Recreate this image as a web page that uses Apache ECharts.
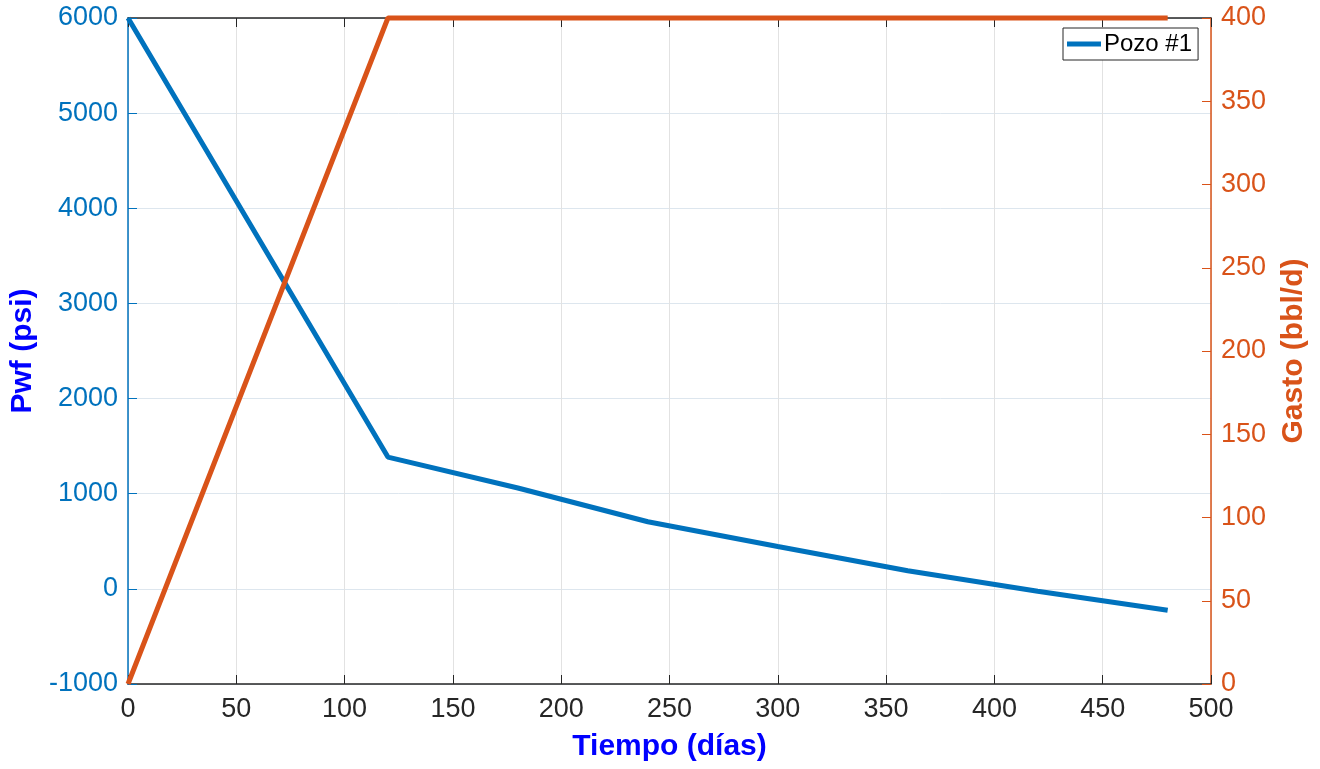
<!DOCTYPE html>
<html>
<head>
<meta charset="utf-8">
<script src="https://cdn.jsdelivr.net/npm/echarts@6/dist/echarts.min.js"></script>
<style>html,body{margin:0;padding:0;background:#fff}#c{width:1320px;height:769px}</style>
</head>
<body>
<div id="c"></div>
<script>
const pwfDays = [0, 120, 180, 240, 300, 360, 420, 480];
const pwfValues = [6000, 1385, 1060, 705, 445, 190, -25, -225];
const gastoDays = [0, 120, 480];
const gastoValues = [0, 400, 400];
const xTicks = {min: 0, max: 500, interval: 50};
const leftTicks = {min: -1000, max: 6000, interval: 1000};
const rightTicks = {min: 0, max: 400, interval: 50};

const FONT = '"Liberation Sans", Arial, Helvetica, sans-serif';
const BLUE = '#0072BD', ORANGE = '#D95319', DARK = '#262626';
const plain = v => String(v);

const chart = echarts.init(document.getElementById('c'), null, {renderer: 'canvas'});
chart.setOption({
  animation: false,
  backgroundColor: '#fff',
  textStyle: {fontFamily: FONT},
  grid: {left: 128, right: 109, top: 18, bottom: 85, containLabel: false},
  legend: {
    data: ['Pozo #1'],
    left: 1063, top: 28,
    orient: 'vertical',
    backgroundColor: '#fff',
    borderColor: DARK, borderWidth: 1,
    padding: [4, 6, 4, 4],
    itemWidth: 34, itemHeight: 5, itemGap: 0,
    icon: 'rect',
    textStyle: {fontFamily: FONT, fontSize: 24, color: '#000', padding: [0,0,0,-2]}
  },
  xAxis: [{
    type: 'value', min: xTicks.min, max: xTicks.max, interval: xTicks.interval,
    position: 'bottom',
    name: 'Tiempo (días)', nameLocation: 'middle', nameGap: 48,
    nameTextStyle: {color: '#0000FF', fontWeight: 'bold', fontSize: 30, fontFamily: FONT},
    axisLine: {show: true, onZero: false, lineStyle: {color: DARK, width: 1.5}},
    axisTick: {show: true, inside: true, length: 9, lineStyle: {color: DARK}},
    axisLabel: {color: DARK, fontSize: 27, margin: 12, fontFamily: FONT, formatter: plain},
    splitLine: {show: true, lineStyle: {color: '#e2e2e2', width: 1}}
  }, {
    type: 'value', min: xTicks.min, max: xTicks.max, interval: xTicks.interval,
    position: 'top',
    axisLine: {show: true, onZero: false, lineStyle: {color: DARK, width: 1.5}},
    axisTick: {show: true, inside: true, length: 9, lineStyle: {color: DARK}},
    axisLabel: {show: false},
    splitLine: {show: false}
  }],
  yAxis: [{
    type: 'value', min: leftTicks.min, max: leftTicks.max, interval: leftTicks.interval,
    position: 'left',
    name: 'Pwf (psi)', nameLocation: 'middle', nameGap: 86,
    nameTextStyle: {color: '#0000FF', fontWeight: 'bold', fontSize: 30, fontFamily: FONT},
    axisLine: {show: true, onZero: false, lineStyle: {color: BLUE, width: 1.5}},
    axisTick: {show: true, inside: true, length: 9, lineStyle: {color: BLUE}},
    axisLabel: {color: BLUE, fontSize: 27, margin: 10, fontFamily: FONT, formatter: plain},
    splitLine: {show: true, lineStyle: {color: '#dde6ee', width: 1}}
  }, {
    type: 'value', min: rightTicks.min, max: rightTicks.max, interval: rightTicks.interval,
    position: 'right',
    name: 'Gasto (bbl/d)', nameLocation: 'middle', nameGap: 68,
    nameRotate: 90,
    nameTextStyle: {color: ORANGE, fontWeight: 'bold', fontSize: 30, fontFamily: FONT},
    axisLine: {show: true, onZero: false, lineStyle: {color: ORANGE, width: 1.5}},
    axisTick: {show: true, inside: true, length: 9, lineStyle: {color: ORANGE}},
    axisLabel: {color: ORANGE, fontSize: 27, margin: 10, fontFamily: FONT, formatter: plain},
    splitLine: {show: false}
  }],
  series: [{
    name: 'Pozo #1', type: 'line', xAxisIndex: 0, yAxisIndex: 0,
    data: pwfDays.map((d, i) => [d, pwfValues[i]]),
    showSymbol: false, symbol: 'none',
    lineStyle: {color: BLUE, width: 5},
    itemStyle: {color: BLUE},
    clip: false, z: 3
  }, {
    name: 'Gasto', type: 'line', xAxisIndex: 0, yAxisIndex: 1,
    data: gastoDays.map((d, i) => [d, gastoValues[i]]),
    showSymbol: false, symbol: 'none',
    lineStyle: {color: ORANGE, width: 5},
    itemStyle: {color: ORANGE},
    clip: false, z: 4
  }]
});
</script>
</body>
</html>
